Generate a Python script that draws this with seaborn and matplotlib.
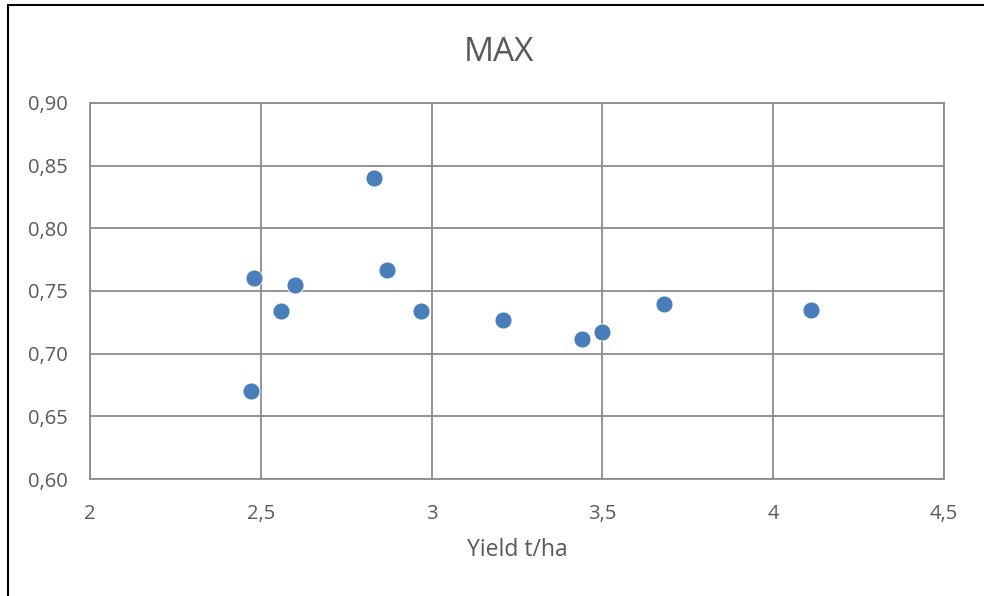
import matplotlib
matplotlib.use("Agg")
import matplotlib.pyplot as plt
import matplotlib.ticker as mticker
import seaborn as sns
import pandas as pd

yield_t_ha = [2.47, 2.48, 2.56, 2.60, 2.83, 2.87, 2.97, 3.21, 3.44, 3.50, 3.68, 4.11]
max_values = [0.670, 0.760, 0.734, 0.755, 0.840, 0.767, 0.734, 0.727, 0.712, 0.717, 0.740, 0.735]
x_ticks = [2, 2.5, 3, 3.5, 4, 4.5]
y_ticks = [0.60, 0.65, 0.70, 0.75, 0.80, 0.85, 0.90]

df = pd.DataFrame({"Yield t/ha": yield_t_ha, "MAX": max_values})

sns.set_style("white")
plt.rcParams["font.family"] = ["Open Sans", "DejaVu Sans"]

fig = plt.figure(figsize=(9.84, 5.96), dpi=100)
ax = fig.add_axes([0.0915, 0.1963, 0.8678, 0.6309])

sns.scatterplot(data=df, x="Yield t/ha", y="MAX", ax=ax, color="#4a7ebb",
                s=150, edgecolor="white", linewidth=0.6, zorder=3)

ax.set_xlim(2, 4.5)
ax.set_ylim(0.60, 0.90)
ax.set_xticks(x_ticks)
ax.set_yticks(y_ticks)
ax.xaxis.set_major_formatter(mticker.FuncFormatter(lambda v, p: f"{v:g}".replace(".", ",")))
ax.yaxis.set_major_formatter(mticker.FuncFormatter(lambda v, p: f"{v:.2f}".replace(".", ",")))
ax.grid(True, color="#8c8c8c", linewidth=1.3, zorder=0)
ax.set_axisbelow(True)
for sp in ax.spines.values():
    sp.set_visible(True)
    sp.set_color("#8c8c8c")
    sp.set_linewidth(1.3)
ax.tick_params(axis="both", length=0, labelsize=14.5, labelcolor="#595959")
ax.tick_params(axis="x", pad=18)
ax.tick_params(axis="y", pad=16)
ax.set_xlabel("Yield t/ha", fontsize=16.5, color="#595959", labelpad=10)
ax.set_ylabel("")
fig.text(0.5075, 0.912, "MAX", ha="center", va="center", fontsize=24, color="#595959")

# outer chart border (left and top visible)
fig.add_artist(plt.Line2D([0.0085, 0.0085], [0, 0.992], transform=fig.transFigure, color="black", linewidth=1.5))
fig.add_artist(plt.Line2D([0.0085, 1.0], [0.992, 0.992], transform=fig.transFigure, color="black", linewidth=1.5))

fig.savefig("out.png", dpi=100)
